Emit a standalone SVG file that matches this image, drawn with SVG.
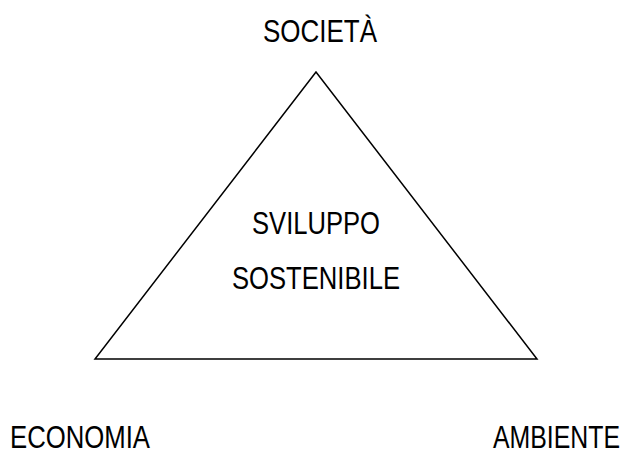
<svg xmlns="http://www.w3.org/2000/svg" width="629" height="452" viewBox="0 0 629 452">
<style>
text{font-family:"Liberation Sans",Arial,sans-serif;font-size:32px;fill:#000}
.c{text-anchor:middle}
</style>
<rect width="629" height="452" fill="#fff"/>
<g id="connectors">
<polygon points="316,72 95,359 537,359" fill="none" stroke="#000" stroke-width="1.5"/>
</g>
<g id="societa"><text class="c" x="320" y="42" textLength="114" lengthAdjust="spacingAndGlyphs">SOCIETÀ</text></g>
<g id="sviluppo"><text class="c" x="316" y="234" textLength="128" lengthAdjust="spacingAndGlyphs">SVILUPPO</text><text class="c" x="316" y="289" textLength="168" lengthAdjust="spacingAndGlyphs">SOSTENIBILE</text></g>
<g id="economia"><text x="10" y="448" textLength="140" lengthAdjust="spacingAndGlyphs">ECONOMIA</text></g>
<g id="ambiente"><text x="493" y="448" textLength="127" lengthAdjust="spacingAndGlyphs">AMBIENTE</text></g>
</svg>
